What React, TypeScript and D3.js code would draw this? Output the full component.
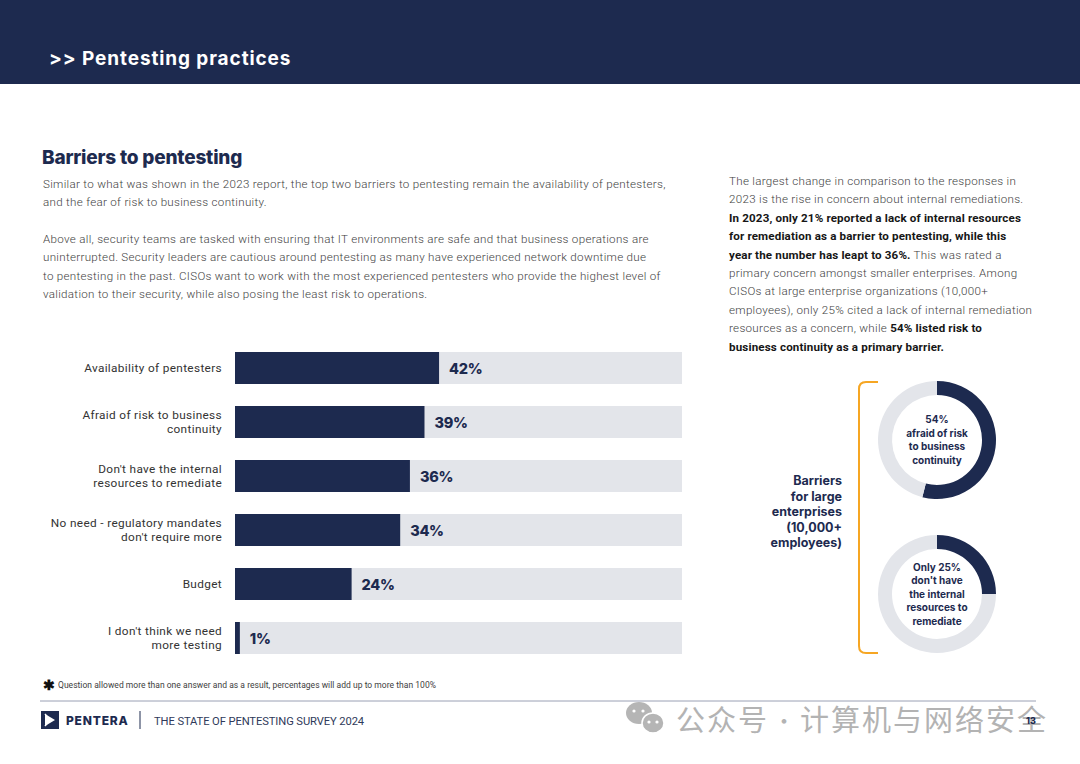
import React from 'react';
import * as d3 from 'd3';

// Survey data
const categories: string[][] = [
  ['Availability of pentesters'],
  ['Afraid of risk to business', 'continuity'],
  ["Don't have the internal", 'resources to remediate'],
  ['No need -  regulatory mandates', "don't require more"],
  ['Budget'],
  ["I don't think we need", 'more testing'],
];
const values = [42, 39, 36, 34, 24, 1];

const donutValues = [54, 25];
const donutLabels: string[][] = [
  ['54%', 'afraid of risk', 'to business', 'continuity'],
  ['Only 25%', "don't have", 'the internal', 'resources to', 'remediate'],
];

const introLines = [
  'Similar to what was shown in the 2023 report, the top two barriers to pentesting remain the availability of pentesters,',
  'and the fear of risk to business continuity.',
  '',
  'Above all, security teams are tasked with ensuring that IT environments are safe and that business operations are',
  'uninterrupted. Security leaders are cautious around pentesting as many have experienced network downtime due',
  'to pentesting in the past. CISOs want to work with the most experienced pentesters who provide the highest level of',
  'validation to their security, while also posing the least risk to operations.',
];

// [text, bold] segments per line
const sideLines: [string, boolean][][] = [
  [['The largest change in comparison to the  responses in', false]],
  [['2023 is the rise in concern about internal remediations.', false]],
  [['In 2023, only 21% reported a lack of internal resources', true]],
  [['for remediation as a barrier to pentesting, while this', true]],
  [['year the number has leapt to 36%.', true], [' This was rated a', false]],
  [['primary concern amongst smaller enterprises. Among', false]],
  [['CISOs at large enterprise organizations (10,000+', false]],
  [['employees), only 25% cited a lack of internal remediation', false]],
  [['resources as a concern, while ', false], ['54% listed risk to', true]],
  [['business continuity as a primary barrier.', true]],
];

const sideTitle = ['Barriers', 'for large', 'enterprises', '(10,000+', 'employees)'];

const NAVY = '#1d2a4f';
const TRACK = '#e3e5ea';
const BODY = '#3e3e3e';
const FONT = 'Roboto, "Noto Sans", sans-serif';
const HEAD = 'Inter, "Noto Sans", sans-serif';
const CJK = '"Noto Sans CJK SC", sans-serif';

const App: React.FC = () => {
  const W = 1080;
  const H = 764;

  const x = d3.scaleLinear().domain([0, 92]).range([235, 682]);
  const y = d3.scaleBand<number>()
    .domain(d3.range(values.length))
    .range([341, 665])
    .paddingInner(22 / 54)
    .paddingOuter(11 / 54);

  const pie = d3.pie<number>().sort(null).value((d) => d);
  const arc = d3.arc<d3.PieArcDatum<number>>().innerRadius(45).outerRadius(59);
  const donutY = d3.scaleLinear().domain([0, 1]).range([440, 594]);

  return (
    <svg width={W} height={H} viewBox={`0 0 ${W} ${H}`}
      style={{ position: 'absolute', left: 0, top: 0, background: '#fff' }}>
      {/* header band */}
      <rect x={0} y={0} width={W} height={84} fill={NAVY} />
      <text x={49} y={65} fill="#fff" fontFamily={HEAD} fontWeight={700}
        fontSize={19} letterSpacing={0.9}>{'>> Pentesting practices'}</text>

      {/* section title + intro */}
      <text x={42} y={164} fill={NAVY} fontFamily={HEAD} fontWeight={800}
        fontSize={19} letterSpacing={-0.2}>Barriers to pentesting</text>
      {introLines.map((l, i) => (
        <text key={i} x={43} y={188 + i * 18.3} fill={BODY} fontFamily={FONT}
          fontWeight={300} fontSize={11.6} letterSpacing={0.3}>{l}</text>
      ))}

      {/* right column text */}
      {sideLines.map((segs, i) => (
        <text key={i} x={729} y={185 + i * 18.4} fontFamily={FONT} fontSize={11.6}
          letterSpacing={0.3}>
          {segs.map(([t, b], j) => (
            <tspan key={j} fill={b ? '#161616' : BODY} fontWeight={b ? 700 : 300}
              letterSpacing={b ? 0.15 : 0.3}>{t}</tspan>
          ))}
        </text>
      ))}

      {/* bars */}
      {values.map((v, i) => {
        const by = y(i) as number;
        const bh = y.bandwidth();
        const cy = by + bh / 2;
        const lines = categories[i];
        return (
          <g key={i}>
            <rect x={x(0)} y={by} width={x(92) - x(0)} height={bh} fill={TRACK} />
            <rect x={x(0)} y={by} width={x(v) - x(0)} height={bh} fill={NAVY} />
            <text x={x(v) + 10} y={cy + 5.5} fill={NAVY} fontFamily={HEAD}
              fontWeight={800} fontSize={14.5} letterSpacing={-0.3}>{v}%</text>
            {lines.map((l, k) => (
              <text key={k} x={222} textAnchor="end"
                y={cy + 4 + (k - (lines.length - 1) / 2) * 14}
                fill="#333" fontFamily={FONT} fontSize={11.8} letterSpacing={0.35}>{l}</text>
            ))}
          </g>
        );
      })}

      {/* footnote */}
      <text x={43} y={690} fill="#111" fontSize={14} fontFamily={FONT} fontWeight={700}>✱</text>
      <text x={58} y={688} fill={BODY} fontFamily={FONT} fontSize={8.5} letterSpacing={0.03}>
        Question allowed more than one answer and as a result, percentages will add up to more than 100%
      </text>

      {/* orange bracket */}
      <path d="M878,382 H866 Q859,382 859,389 V646 Q859,653 866,653 H878"
        fill="none" stroke="#f6a623" strokeWidth={2} />
      {sideTitle.map((l, i) => (
        <text key={i} x={842} y={485 + i * 15.5} textAnchor="end" fill={NAVY}
          fontFamily={HEAD} fontWeight={700} fontSize={12.5}>{l}</text>
      ))}

      {/* donuts */}
      {donutValues.map((v, i) => {
        const cy = donutY(i);
        const arcs = pie([v, 100 - v]);
        const lines = donutLabels[i];
        return (
          <g key={i} transform={`translate(937,${cy})`}>
            {arcs.map((a, k) => (
              <path key={k} d={arc(a) || ''} fill={k === 0 ? NAVY : TRACK} />
            ))}
            {lines.map((l, k) => (
              <text key={k} x={0} y={3.5 + (k - (lines.length - 1) / 2) * 13.5}
                textAnchor="middle" fill={NAVY} fontFamily={HEAD} fontWeight={700}
                fontSize={10}>{l}</text>
            ))}
          </g>
        );
      })}

      {/* footer */}
      <line x1={40} x2={1036} y1={701} y2={701} stroke="#9aa0b4" strokeWidth={1} />
      <g transform="translate(41,711)">
        <path d="M0,0 H18 V18 H0 Z M4,3 V15 L14,9 Z" fill={NAVY} fillRule="evenodd" />
        <path d="M4,3 L9,9 L4,15" fill="none" stroke="#fff" strokeWidth={1.4} />
      </g>
      <text x={66} y={725} fill={NAVY} fontFamily={HEAD} fontWeight={800} fontSize={12}
        letterSpacing={0.8}>PENTERA</text>
      <line x1={140} x2={140} y1={711} y2={729} stroke={NAVY} strokeWidth={1} />
      <text x={154} y={725} fill="#2f3a5a" fontFamily={FONT} fontSize={11.2}
        letterSpacing={-0.1}>THE STATE OF PENTESTING SURVEY 2024</text>

      {/* watermark */}
      <g fill="#b5b5b5">
        <ellipse cx={639} cy={713} rx={13} ry={11} />
        <ellipse cx={653} cy={723} rx={11} ry={10} stroke="#fff" strokeWidth={1.5} />
        <circle cx={649} cy={722} r={1.6} fill="#fff" />
        <circle cx={657} cy={722} r={1.6} fill="#fff" />
        <circle cx={634} cy={711} r={1.6} fill="#fff" />
        <circle cx={643} cy={711} r={1.6} fill="#fff" />
      </g>
      <text x={676} y={731} fill="#b3b3b3" fontFamily={CJK} fontSize={29}
        letterSpacing={2}>公众号</text>
      <text x={784} y={729} fill="#b3b3b3" fontFamily={CJK} fontSize={22}
        textAnchor="middle">·</text>
      <text x={800} y={731} fill="#b3b3b3" fontFamily={CJK} fontSize={29}
        letterSpacing={2}>计算机与网络安全</text>
      <text x={1031} y={724} textAnchor="middle" fill={NAVY} fontFamily={HEAD}
        fontWeight={800} fontSize={9}>13</text>
    </svg>
  );
};

export default App;
